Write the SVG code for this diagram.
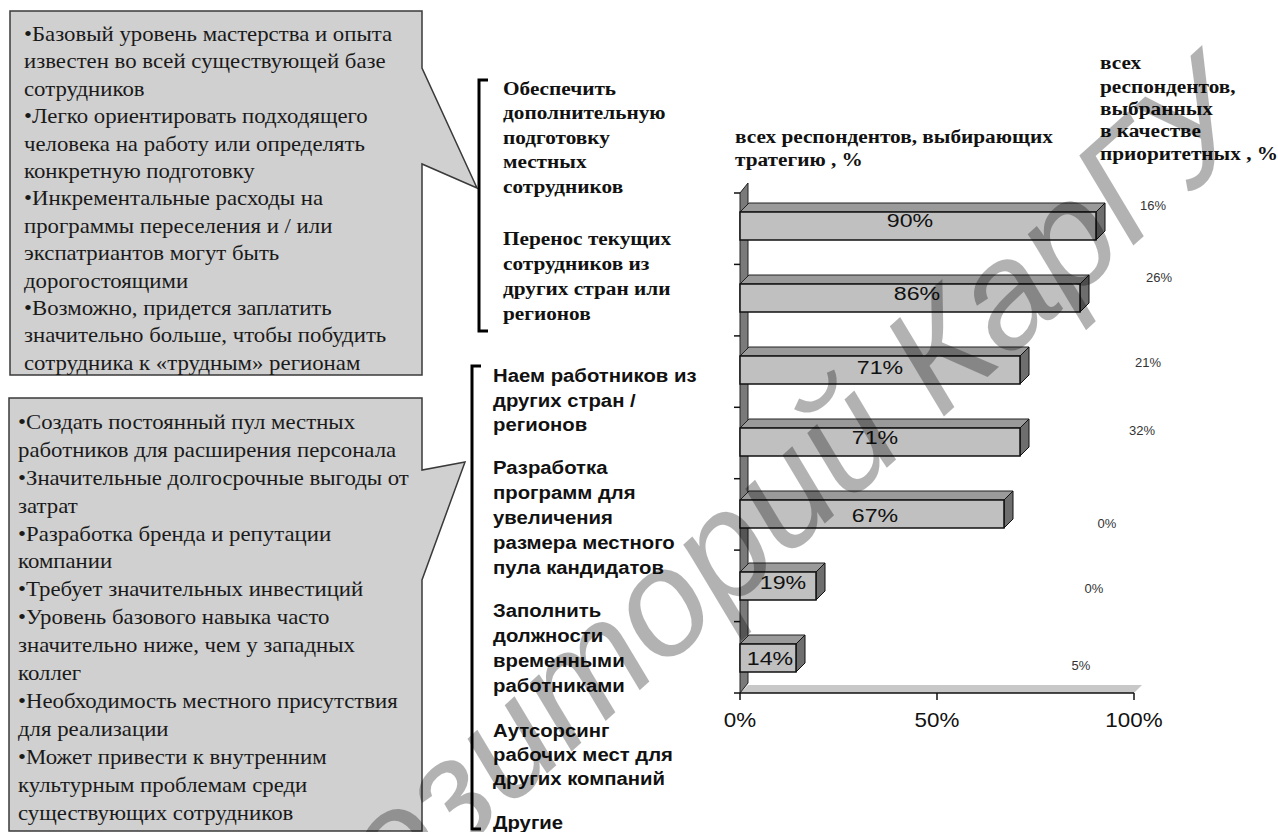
<svg xmlns="http://www.w3.org/2000/svg" width="1278" height="832" viewBox="0 0 1278 832">
<style>
.box{fill:#d0d0d0;stroke:#3a3a3a;stroke-width:1.5}
.bt{font-family:"Liberation Serif","DejaVu Serif",serif;font-size:20px;fill:#1a1a1a}
.sb{font-family:"Liberation Serif","DejaVu Serif",serif;font-size:19px;font-weight:bold;fill:#111}
.lb{font-family:"Liberation Sans",sans-serif;font-size:19px;font-weight:bold;fill:#111}
.brk{fill:none;stroke:#000;stroke-width:3}
.front{fill:#c0c0c0;stroke:#111;stroke-width:1.5}
.topf{fill:#9a9a9a;stroke:#222;stroke-width:1}
.side{fill:#6e6e6e;stroke:#111;stroke-width:1}
.val{font-family:"Liberation Sans",sans-serif;font-size:19px;fill:#111;text-anchor:middle}
.pr{font-family:"Liberation Sans",sans-serif;font-size:13px;fill:#333;text-anchor:middle}
.ax{font-family:"Liberation Sans",sans-serif;font-size:20px;fill:#111;text-anchor:middle}
.wm{font-family:"Liberation Sans",sans-serif;font-size:150px;font-style:italic;fill:#000;fill-opacity:0.3;text-anchor:end}
</style>
<rect width="1278" height="832" fill="#fff"/>

<g id="callout1">
<path class="box" d="M10 11 H422 V68 L477 188 L422 164 V375 H10 Z"/>
<g transform="translate(24 0) scale(1.14 1)" class="bt">
<text x="0" y="41">•Базовый уровень мастерства и опыта</text>
<text x="0" y="68.4">известен во всей существующей базе</text>
<text x="0" y="95.8">сотрудников</text>
<text x="0" y="123.2">•Легко ориентировать подходящего</text>
<text x="0" y="150.6">человека на работу или определять</text>
<text x="0" y="178">конкретную подготовку</text>
<text x="0" y="205.4">•Инкрементальные расходы на</text>
<text x="0" y="232.8">программы переселения и / или</text>
<text x="0" y="260.2">экспатриантов могут быть</text>
<text x="0" y="287.6">дорогостоящими</text>
<text x="0" y="315">•Возможно, придется заплатить</text>
<text x="0" y="342.4">значительно больше, чтобы побудить</text>
<text x="0" y="369.8">сотрудника к «трудным» регионам</text>
</g>
</g>

<g id="callout2">
<path class="box" d="M9 398 H422 V470 L465 462 L422 580 V831 H9 Z"/>
<g transform="translate(18 0) scale(1.14 1)" class="bt">
<text x="0" y="429">•Создать постоянный пул местных</text>
<text x="0" y="456.9">работников для расширения персонала</text>
<text x="0" y="484.8">•Значительные долгосрочные выгоды от</text>
<text x="0" y="512.7">затрат</text>
<text x="0" y="540.6">•Разработка бренда и репутации</text>
<text x="0" y="568.5">компании</text>
<text x="0" y="596.4">•Требует значительных инвестиций</text>
<text x="0" y="624.3">•Уровень базового навыка часто</text>
<text x="0" y="652.2">значительно ниже, чем у западных</text>
<text x="0" y="680.1">коллег</text>
<text x="0" y="708">•Необходимость местного присутствия</text>
<text x="0" y="735.9">для реализации</text>
<text x="0" y="763.8">•Может привести к внутренним</text>
<text x="0" y="791.7">культурным проблемам среди</text>
<text x="0" y="819.6">существующих сотрудников</text>
</g>
</g>

<g id="bracket1">
<path class="brk" d="M488 80 H479 V331 H488"/>
<g transform="translate(503 0) scale(1.12 1)" class="sb">
<text x="0" y="95">Обеспечить</text>
<text x="0" y="119.5">дополнительную</text>
<text x="0" y="144">подготовку</text>
<text x="0" y="168.5">местных</text>
<text x="0" y="193">сотрудников</text>
<text x="0" y="245">Перенос текущих</text>
<text x="0" y="270">сотрудников из</text>
<text x="0" y="295">других стран или</text>
<text x="0" y="320">регионов</text>
</g>
</g>

<g id="bracket2">
<path class="brk" d="M481 366 H472 V829 H481"/>
<g transform="translate(493 0) scale(1.07 1)" class="lb">
<text x="0" y="382">Наем работников из</text>
<text x="0" y="407">других стран /</text>
<text x="0" y="431">регионов</text>
<text x="0" y="474">Разработка</text>
<text x="0" y="499">программ для</text>
<text x="0" y="524">увеличения</text>
<text x="0" y="549">размера местного</text>
<text x="0" y="574">пула кандидатов</text>
<text x="0" y="617">Заполнить</text>
<text x="0" y="642">должности</text>
<text x="0" y="667">временными</text>
<text x="0" y="692">работниками</text>
<text x="0" y="737">Аутсорсинг</text>
<text x="0" y="761">рабочих мест для</text>
<text x="0" y="785">других компаний</text>
<text x="0" y="829">Другие</text>
</g>
</g>

<g id="headers">
<g transform="translate(735 0) scale(1.12 1)" class="sb">
<text x="0" y="143">всех респондентов, выбирающих</text>
<text x="0" y="166">тратегию , %</text>
</g>
<g transform="translate(1100 0) scale(1.12 1)" class="sb">
<text x="0" y="69">всех</text>
<text x="0" y="93">респондентов,</text>
<text x="0" y="115">выбранных</text>
<text x="0" y="137">в качестве</text>
<text x="0" y="160">приоритетных , %</text>
</g>
</g>

<g id="chart">
<polygon points="740,693 748,685 1142,685 1134,693" fill="#c8c8c8"/>
<polygon points="740,193 748,183 748,683 740,693" fill="#7a7a7a" stroke="#222" stroke-width="1"/>
<g stroke="#111" stroke-width="1.5">
<line x1="734" y1="193" x2="740" y2="193"/>
<line x1="734" y1="264.4" x2="740" y2="264.4"/>
<line x1="734" y1="335.9" x2="740" y2="335.9"/>
<line x1="734" y1="407.3" x2="740" y2="407.3"/>
<line x1="734" y1="478.7" x2="740" y2="478.7"/>
<line x1="734" y1="550.1" x2="740" y2="550.1"/>
<line x1="734" y1="621.6" x2="740" y2="621.6"/>
<line x1="734" y1="693" x2="1134" y2="693"/>
<line x1="740" y1="693" x2="740" y2="700"/>
<line x1="937" y1="693" x2="937" y2="700"/>
<line x1="1134" y1="693" x2="1134" y2="700"/>
</g>

<g id="bar1">
<polygon class="topf" points="740,212 749,203 1105,203 1096,212"/>
<polygon class="side" points="1096,212 1105,203 1105,231 1096,240"/>
<rect class="front" x="740" y="212" width="356" height="28"/>
</g>
<g id="bar2">
<polygon class="topf" points="740,284 749,275 1089,275 1080,284"/>
<polygon class="side" points="1080,284 1089,275 1089,303 1080,312"/>
<rect class="front" x="740" y="284" width="340" height="28"/>
</g>
<g id="bar3">
<polygon class="topf" points="740,356 749,347 1029,347 1020,356"/>
<polygon class="side" points="1020,356 1029,347 1029,375 1020,384"/>
<rect class="front" x="740" y="356" width="280" height="28"/>
</g>
<g id="bar4">
<polygon class="topf" points="740,428 749,419 1029,419 1020,428"/>
<polygon class="side" points="1020,428 1029,419 1029,447 1020,456"/>
<rect class="front" x="740" y="428" width="280" height="28"/>
</g>
<g id="bar5">
<polygon class="topf" points="740,500 749,491 1013,491 1004,500"/>
<polygon class="side" points="1004,500 1013,491 1013,519 1004,528"/>
<rect class="front" x="740" y="500" width="264" height="28"/>
</g>
<g id="bar6">
<polygon class="topf" points="740,572 749,563 825,563 816,572"/>
<polygon class="side" points="816,572 825,563 825,591 816,600"/>
<rect class="front" x="740" y="572" width="76" height="28"/>
</g>
<g id="bar7">
<polygon class="topf" points="740,644 749,635 805,635 796,644"/>
<polygon class="side" points="796,644 805,635 805,663 796,672"/>
<rect class="front" x="740" y="644" width="56" height="28"/>
</g>

<g class="val">
<text transform="translate(910 227) scale(1.22 1)">90%</text>
<text transform="translate(917 300) scale(1.22 1)">86%</text>
<text transform="translate(880 374) scale(1.22 1)">71%</text>
<text transform="translate(875 444) scale(1.22 1)">71%</text>
<text transform="translate(875 522) scale(1.22 1)">67%</text>
<text transform="translate(783 589) scale(1.22 1)">19%</text>
<text transform="translate(770 665) scale(1.22 1)">14%</text>
</g>
<g class="ax">
<text transform="translate(740 727) scale(1.12 1)">0%</text>
<text transform="translate(937 727) scale(1.12 1)">50%</text>
<text transform="translate(1134 727) scale(1.12 1)">100%</text>
</g>
<g class="pr">
<text x="1153" y="210">16%</text>
<text x="1159" y="282">26%</text>
<text x="1148" y="367">21%</text>
<text x="1142" y="435">32%</text>
<text x="1107" y="528">0%</text>
<text x="1094" y="593">0%</text>
<text x="1081" y="670">5%</text>
</g>
</g>

<g id="watermark">
<text class="wm" transform="translate(1262 130) rotate(-42)">Репозиторий КарГУ</text>
</g>
</svg>
